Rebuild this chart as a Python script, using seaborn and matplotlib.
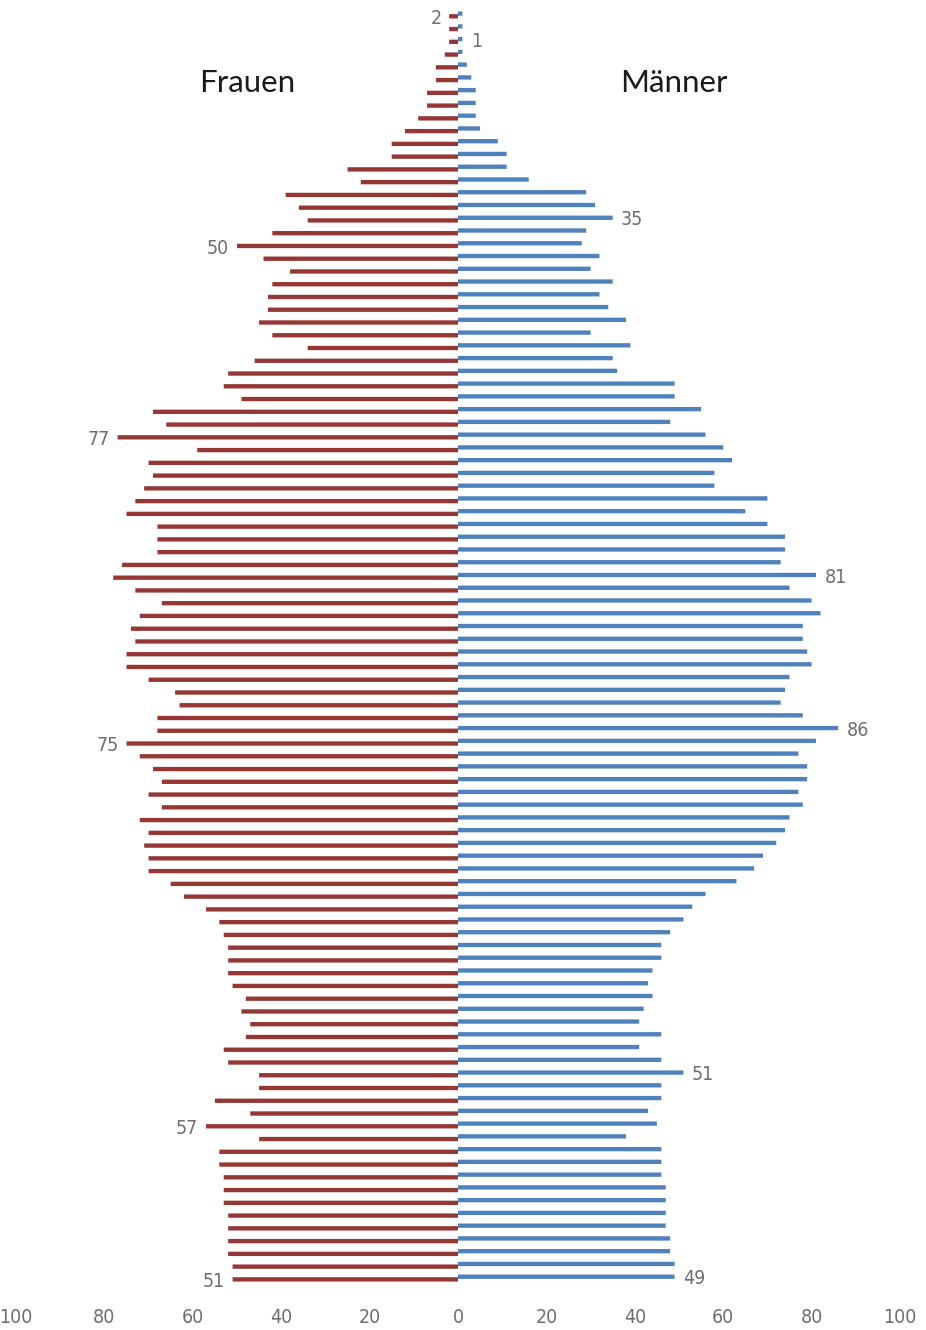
import matplotlib
matplotlib.use("Agg")
import matplotlib.pyplot as plt
import seaborn as sns
import pandas as pd
from matplotlib import font_manager
from matplotlib.font_manager import FontProperties

# Ages from oldest (top) to youngest (bottom)
ages = list(range(99, -1, -1))

frauen = [2, 2, 2, 3, 5, 5, 7, 7,
          9, 12, 15, 15, 25, 22, 39, 36,
          34, 42, 50, 44, 38, 42, 43, 43,
          45, 42, 34, 46, 52, 53, 49, 69, 66,
          77, 59, 70, 69, 71, 73, 75, 68,
          68, 68, 76, 78, 73, 67, 72, 74,
          73, 75, 75, 70, 64, 63, 68, 68,
          75, 72, 69, 67, 70, 67, 72, 70, 71,
          70, 70, 65, 62, 57, 54, 53, 52,
          52, 52, 51, 48, 49, 47, 48, 53,
          52, 45, 45, 55, 47, 57, 45, 54,
          54, 53, 53, 53, 52, 52, 52, 52, 51, 51]

maenner = [1, 1, 1, 1, 2, 3, 4, 4,
           4, 5, 9, 11, 11, 16, 29, 31,
           35, 29, 28, 32, 30, 35, 32, 34,
           38, 30, 39, 35, 36, 49, 49, 55, 48,
           56, 60, 62, 58, 58, 70, 65, 70,
           74, 74, 73, 81, 75, 80, 82, 78,
           78, 79, 80, 75, 74, 73, 78, 86,
           81, 77, 79, 79, 77, 78, 75, 74, 72,
           69, 67, 63, 56, 53, 51, 48, 46,
           46, 44, 43, 44, 42, 41, 46, 41,
           46, 51, 46, 46, 43, 45, 38, 46,
           46, 46, 47, 47, 47, 47, 48, 48, 49, 49]

# Ages whose bars carry a value label
frauen_label_ages = [99, 81, 66, 42, 12, 0]
maenner_label_ages = [97, 83, 55, 43, 16, 0]

x_ticks = [-100, -80, -60, -40, -20, 0, 20, 40, 60, 80, 100]

sns.set_theme(style="white")
installed = {f.name for f in font_manager.fontManager.ttflist}
head_font = "Lato" if "Lato" in installed else "DejaVu Sans"
plt.rcParams["font.family"] = ["DejaVu Sans"]


def narrow_font(size):
    """A condensed face for the numbers, if one is installed."""
    found = []
    for f in font_manager.fontManager.ttflist:
        narrow = ("Narrow" in f.name or "Condensed" in f.name
                  or f.stretch in ("condensed", "semi-condensed", "extra-condensed"))
        if narrow and f.style == "normal" and f.weight in (300, 400, "normal", "light", "regular"):
            found.append(f)
    if found:
        found.sort(key=lambda f: (0 if "Liberation" in f.name else 1, f.fname))
        return FontProperties(fname=found[0].fname, size=size)
    return FontProperties(family="DejaVu Sans", size=size - 2.5)


num_fp = narrow_font(14)

RED = "#953735"
BLUE = "#4F81BD"
GRAY = "#6e6e6e"

df = pd.DataFrame({
    "Alter": ages,
    "Frauen": [-v for v in frauen],
    "Männer": maenner,
})

fig = plt.figure(figsize=(9.26, 13.30), dpi=100)
ax = fig.add_axes([16 / 926, 44.3 / 1330, 884 / 926, 1278.4 / 1330])

sns.barplot(data=df, x="Frauen", y="Alter", orient="y", native_scale=True,
            width=0.34, color=RED, saturation=1, errorbar=None,
            linewidth=0, ax=ax)
n_f = len(ax.patches)
sns.barplot(data=df, x="Männer", y="Alter", orient="y", native_scale=True,
            width=0.34, color=BLUE, saturation=1, errorbar=None,
            linewidth=0, ax=ax)

# Clustered look: male bars sit slightly above the female ones
for i, p in enumerate(ax.patches):
    p.set_y(p.get_y() + (-0.105 if i < n_f else 0.105))
    p.set_snap(False)

ax.set_xlim(-100, 100)
ax.set_ylim(-0.6, 99.6)
ax.set_yticks([])
ax.set_xticks(x_ticks)
ax.set_xticklabels([str(abs(t)) for t in x_ticks])
ax.tick_params(axis="x", length=0, pad=16, labelcolor=GRAY)
for lab in ax.get_xticklabels():
    lab.set_fontproperties(num_fp)
    lab.set_color(GRAY)
ax.set_xlabel("")
ax.set_ylabel("")
for s in ax.spines.values():
    s.set_visible(False)


def bar_for(patches, age):
    for p in patches:
        yc = p.get_y() + p.get_height() / 2
        if abs(yc - age) < 0.4:
            return p
    return None


f_patches = ax.patches[:n_f]
m_patches = ax.patches[n_f:]
for age in frauen_label_ages:
    p = bar_for(f_patches, age)
    val = frauen[ages.index(age)]
    x_end = min(p.get_x(), p.get_x() + p.get_width())
    ax.annotate(str(val), xy=(x_end, p.get_y() + p.get_height() / 2),
                xytext=(-5.5, -1.5), textcoords="offset points",
                ha="right", va="center", fontproperties=num_fp, color=GRAY)
for age in maenner_label_ages:
    p = bar_for(m_patches, age)
    val = maenner[ages.index(age)]
    x_end = max(p.get_x(), p.get_x() + p.get_width())
    ax.annotate(str(val), xy=(x_end, p.get_y() + p.get_height() / 2),
                xytext=(6, -1.5), textcoords="offset points",
                ha="left", va="center", fontproperties=num_fp, color=GRAY)

fig.text(247 / 926, 1 - 83 / 1330, "Frauen", ha="center", va="center",
         fontsize=22.5, family=head_font, color="#1a1a1a")
fig.text(674 / 926, 1 - 83 / 1330, "Männer", ha="center", va="center",
         fontsize=22.5, family=head_font, color="#1a1a1a")

fig.savefig("out.png", dpi=100, facecolor="white")
